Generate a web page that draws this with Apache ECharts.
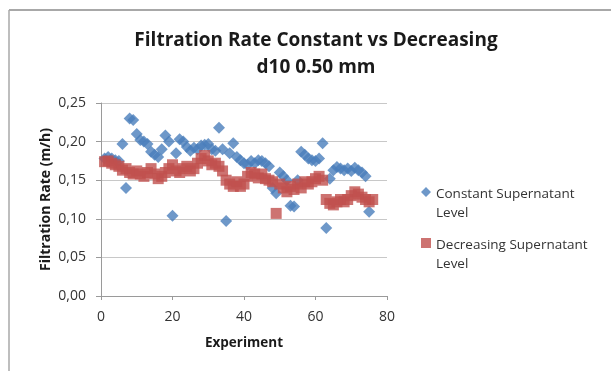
<!DOCTYPE html>
<html>
<head>
<meta charset="utf-8">
<script src="https://cdn.jsdelivr.net/npm/echarts@6/dist/echarts.min.js"></script>
<style>
html, body { margin: 0; padding: 0; background: #fff; }
#main { width: 611px; height: 371px; }
</style>
</head>
<body>
<div id="main"></div>
<script>
// values, experiment number = index + 1
var constantLevel = [
    0.178, 0.180, 0.178, 0.176, 0.175, 0.197, 0.140, 0.230, 0.228, 0.210,
    0.202, 0.200, 0.197, 0.187, 0.183, 0.180, 0.190, 0.208, 0.200, 0.104,
    0.185, 0.203, 0.200, 0.193, 0.188, 0.192, 0.190, 0.195, 0.196, 0.197,
    0.190, 0.188, 0.218, 0.190, 0.097, 0.185, 0.198, 0.180, 0.176, 0.172,
    0.170, 0.175, 0.172, 0.176, 0.175, 0.172, 0.168, 0.140, 0.133, 0.160,
    0.155, 0.150, 0.117, 0.116, 0.150, 0.187, 0.183, 0.178, 0.176, 0.175,
    0.178, 0.198, 0.088, 0.152, 0.163, 0.167, 0.165, 0.163, 0.165, 0.162,
    0.166, 0.163, 0.160, 0.155, 0.109
];
var decreasingLevel = [
    0.174, 0.175, 0.172, 0.170, 0.168, 0.163, 0.165, 0.160, 0.158, 0.162,
    0.158, 0.155, 0.160, 0.165, 0.158, 0.152, 0.155, 0.160, 0.165, 0.170,
    0.162, 0.160, 0.165, 0.168, 0.162, 0.165, 0.172, 0.178, 0.182, 0.175,
    0.170, 0.172, 0.168, 0.162, 0.150, 0.145, 0.142, 0.148, 0.142, 0.145,
    0.155, 0.160, 0.158, 0.153, 0.158, 0.152, 0.150, 0.148, 0.107, 0.145,
    0.140, 0.135, 0.142, 0.138, 0.145, 0.140, 0.148, 0.145, 0.148, 0.152,
    0.155, 0.150, 0.125, 0.120, 0.118, 0.122, 0.125, 0.122, 0.125, 0.130,
    0.135, 0.132, 0.128, 0.125, 0.122, 0.125
];
var seriesNames = ['Constant Supernatant Level', 'Decreasing Supernatant Level'];
var titleLines = ['Filtration Rate Constant vs Decreasing', 'd10 0.50 mm'];

var toPairs = function (arr) {
    return arr.map(function (v, i) { return [i + 1, v]; });
};

var font = 'Open Sans';
// the little dot at the bottom keeps the icon on the first text line
var diamondIcon = 'path://M5,0L10,5L5,10L0,5Z M0,34L0.01,34L0,34.01Z';
var squareIcon = 'path://M0,0L10,0L10,10L0,10Z M0,34L0.01,34L0,34.01Z';

var myChart = echarts.init(document.getElementById('main'));

var option = {
    backgroundColor: '#fff',
    animation: false,
    title: {
        text: titleLines.join('\n'),
        left: 311,
        textAlign: 'center',
        top: 22,
        textStyle: {
            fontFamily: font,
            fontSize: 19,
            fontWeight: 'bold',
            color: '#1a1a1a',
            lineHeight: 27
        }
    },
    legend: {
        orient: 'vertical',
        left: 416,
        top: 180,
        itemGap: 13,
        itemWidth: 10,
        itemHeight: 36,
        data: [
            { name: seriesNames[0], icon: diamondIcon },
            { name: seriesNames[1], icon: squareIcon }
        ],
        formatter: function (name) {
            return name.replace(' Level', '\nLevel');
        },
        textStyle: {
            fontFamily: font,
            fontSize: 13.5,
            color: '#333',
            lineHeight: 19
        }
    },
    grid: {
        left: 101,
        top: 103,
        width: 286,
        height: 193
    },
    xAxis: {
        type: 'value',
        min: 0,
        max: 80,
        interval: 20,
        name: 'Experiment',
        nameLocation: 'middle',
        nameGap: 40,
        nameTextStyle: {
            fontFamily: font,
            fontSize: 13.5,
            fontWeight: 'bold',
            color: '#1a1a1a'
        },
        axisLine: { lineStyle: { color: '#9a9a9a', width: 1 } },
        axisTick: { show: true, length: 4, lineStyle: { color: '#9a9a9a' } },
        axisLabel: {
            fontFamily: font,
            fontSize: 14,
            color: '#333',
            margin: 14
        },
        splitLine: { show: false }
    },
    yAxis: {
        type: 'value',
        min: 0,
        max: 0.25,
        interval: 0.05,
        name: 'Filtration Rate (m/h)',
        nameLocation: 'middle',
        nameGap: 48,
        nameTextStyle: {
            fontFamily: font,
            fontSize: 14,
            fontWeight: 'bold',
            color: '#1a1a1a'
        },
        axisLine: { show: true, lineStyle: { color: '#9a9a9a', width: 1 } },
        axisTick: { show: true, length: 5, lineStyle: { color: '#9a9a9a' } },
        axisLabel: {
            fontFamily: font,
            fontSize: 14,
            color: '#333',
            margin: 15,
            formatter: function (v) { return v.toFixed(2).replace('.', ','); }
        },
        splitLine: { lineStyle: { color: '#c8c8c8', width: 1 } }
    },
    graphic: [
        {
            type: 'line',
            shape: { x1: 9, y1: 10, x2: 611, y2: 10 },
            style: { stroke: '#a8a8a8', lineWidth: 2 }
        },
        {
            type: 'line',
            shape: { x1: 9, y1: 10, x2: 9, y2: 371 },
            style: { stroke: '#a8a8a8', lineWidth: 1.5 }
        }
    ],
    series: [
        {
            name: seriesNames[0],
            type: 'scatter',
            symbol: 'diamond',
            symbolSize: 12,
            itemStyle: { color: '#4a7ebb' },
            data: toPairs(constantLevel)
        },
        {
            name: seriesNames[1],
            type: 'scatter',
            symbol: 'rect',
            symbolSize: 11,
            itemStyle: { color: '#c0504d' },
            data: toPairs(decreasingLevel)
        }
    ]
};

myChart.setOption(option);
</script>
</body>
</html>
